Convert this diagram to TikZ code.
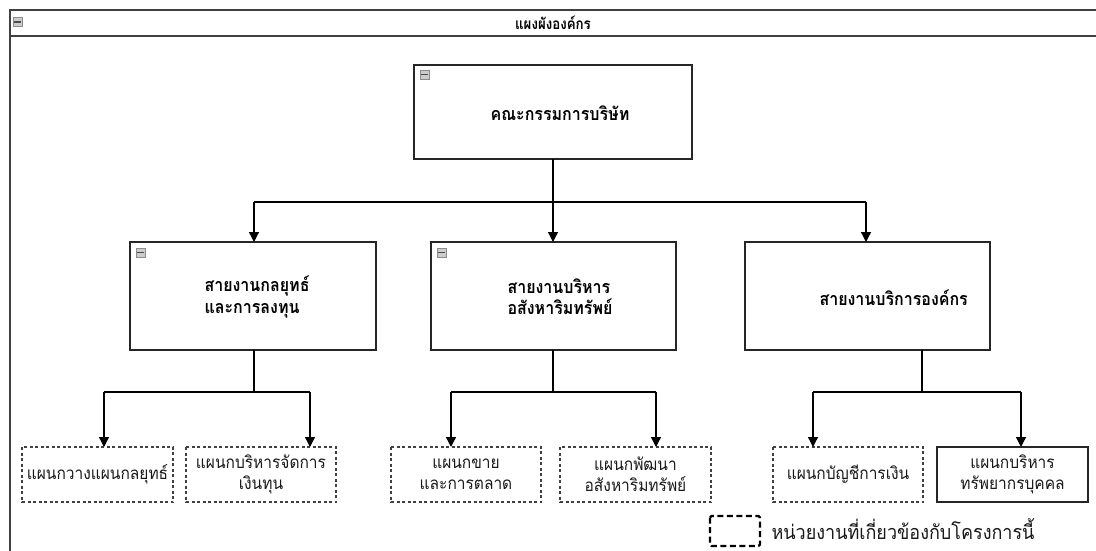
\documentclass[tikz,border=0pt]{standalone}
\usepackage{fontspec}
\newfontfamily\thai[Script=Thai]{Loma}
\usetikzlibrary{arrows.meta,positioning}
\tikzset{
  frameline/.style={draw=black!75, line width=1.2pt},
  topbox/.style={draw=black!85, line width=1.4pt, fill=white},
  deptbox/.style={draw=black!75, line width=1.3pt, dash pattern=on 3pt off 2.5pt},
  solidbox/.style={draw=black!85, line width=1.4pt},
  conn/.style={draw=black, line width=1.3pt},
  arr/.style={conn, -{Triangle[length=10pt,width=10pt]}},
  mainlbl/.style={font=\thai\fontsize{16}{19}\selectfont\bfseries, align=left, text=black, yscale=1.12, transform shape},
  deptlbl/.style={font=\thai\fontsize{15.5}{19}\selectfont, align=center, text=black!90, yscale=1.1, transform shape},
  icon/.style={draw=black!45, fill=black!20, line width=0.5pt, minimum width=9pt, minimum height=9pt, inner sep=0pt},
}
\newcommand{\minusicon}[2]{%
  \node[icon] (#1) at #2 {};
  \draw[black!70, line width=1.2pt] ([xshift=1.5pt]#1.west) -- ([xshift=-1.5pt]#1.east);
}
\begin{document}
\begin{tikzpicture}[x=1pt,y=-1pt]
\useasboundingbox (0,0) rectangle (1096,551);
\fill[white] (0,0) rectangle (1096,551);
% outer frame
\draw[frameline] (1096,10) -- (10,10) -- (10,551);
\draw[frameline] (10,36) -- (1096,36);
\minusicon{ic0}{(17.5,22)}
\node[font=\thai\fontsize{14}{16}\selectfont\bfseries, xscale=0.95, yscale=1.1, transform shape] (title) at (553,23) {แผงผังองค์กร};

% top box
\draw[topbox] (414,65) rectangle (692,159);
\coordinate (topb) at (553,159);
\minusicon{ic1}{(424.5,74.5)}
\node[mainlbl] (board) at (560,113) {คณะกรรมการบริษัท};

% middle boxes
\draw[topbox] (130,242) rectangle (376,350);
\draw[topbox] (431,242) rectangle (676,350);
\draw[topbox] (745,242) rectangle (990,350);
\minusicon{ic2}{(140.5,252.5)}
\minusicon{ic3}{(441.5,252.5)}
\node[mainlbl, anchor=west] (d1) at (201,297) {สายงานกลยุทธ์\\และการลงทุน};
\node[mainlbl, anchor=west] (d2) at (504,297) {สายงานบริหาร\\อสังหาริมทรัพย์};
\node[mainlbl, anchor=west] (d3) at (816,298) {สายงานบริการองค์กร};
\coordinate (m1t) at (254,242); \coordinate (m2t) at (553,242); \coordinate (m3t) at (866,242);
\coordinate (m1b) at (254,350); \coordinate (m2b) at (553,350); \coordinate (m3b) at (922,350);

% top connectors
\coordinate (j0) at (553,202);
\draw[conn] (topb) -- (j0);
\draw[conn] (254,202) -- (866,202);
\draw[arr] (254,202) -- (m1t);
\draw[arr] (j0) -- (m2t);
\draw[arr] (866,202) -- (m3t);

% bottom boxes
\draw[deptbox] (22,447) rectangle (173,502);
\draw[deptbox] (186,447) rectangle (336,502);
\draw[deptbox] (391,447) rectangle (541,502);
\draw[deptbox] (560,447) rectangle (711,502);
\draw[deptbox] (773,447) rectangle (923,502);
\draw[solidbox] (937,447) rectangle (1088,502);
\node[deptlbl] (u1) at (97.5,474.5) {แผนกวางแผนกลยุทธ์};
\node[deptlbl] (u2) at (261,474.5) {แผนกบริหารจัดการ\\เงินทุน};
\node[deptlbl] (u3) at (466,474.5) {แผนกขาย\\และการตลาด};
\node[deptlbl] (u4) at (635.5,474.5) {แผนกพัฒนา\\อสังหาริมทรัพย์};
\node[deptlbl] (u5) at (848,474.5) {แผนกบัญชีการเงิน};
\node[deptlbl] (u6) at (1012.5,474.5) {แผนกบริหาร\\ทรัพยากรบุคคล};

% lower connectors
\draw[conn] (m1b) -- (254,392);
\draw[conn] (104,392) -- (310,392);
\draw[arr] (104,392) -- (104,447);
\draw[arr] (310,392) -- (310,447);
\draw[conn] (m2b) -- (553,392);
\draw[conn] (451,392) -- (656,392);
\draw[arr] (451,392) -- (451,447);
\draw[arr] (656,392) -- (656,447);
\draw[conn] (m3b) -- (922,392);
\draw[conn] (813,392) -- (1021,392);
\draw[arr] (813,392) -- (813,447);
\draw[arr] (1021,392) -- (1021,447);

% legend
\draw[draw=black, line width=2.2pt, dash pattern=on 6pt off 3.5pt, rounded corners=1.5pt] (710,516) rectangle (760,546);
\node[font=\thai\fontsize{18}{20}\selectfont, anchor=west, text=black!90, yscale=1.1, transform shape] (leg) at (768,529) {หน่วยงานที่เกี่ยวข้องกับโครงการนี้};
\end{tikzpicture}
\end{document}
